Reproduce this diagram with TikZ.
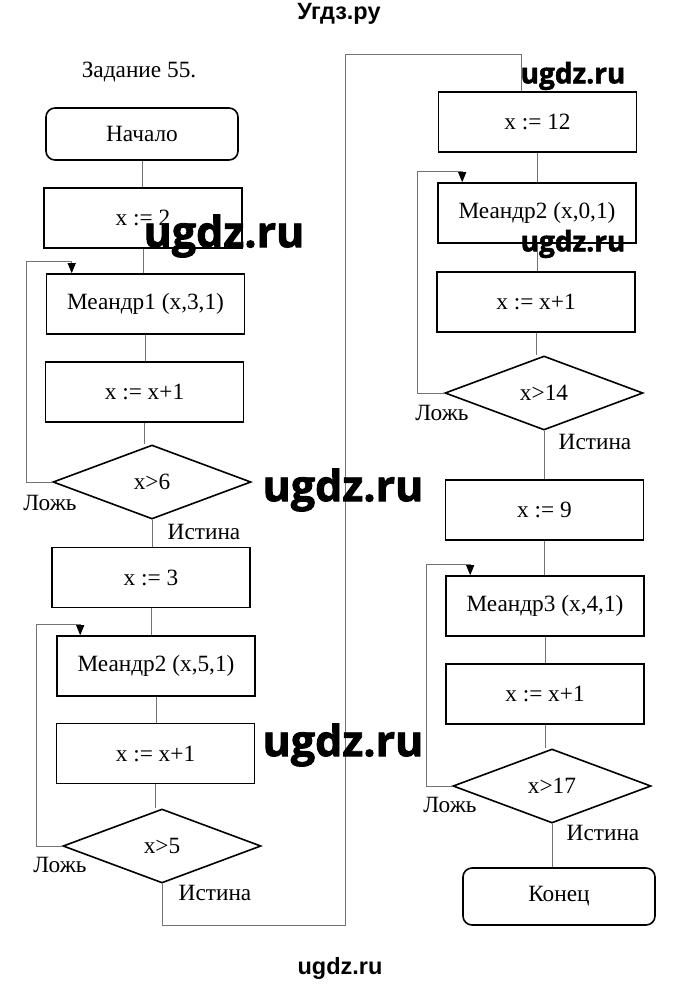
\documentclass[tikz,border=0pt]{standalone}
\usepackage{fontspec}
\setmainfont{Liberation Serif}
\newfontfamily\wmfont{Open Sans}[BoldFeatures={FakeBold=2}]
\newfontfamily\wmtop{Liberation Sans}
\usetikzlibrary{shapes.geometric,arrows.meta,calc}

\tikzset{
  blok/.style={draw=black,line width=1.6pt,minimum width=198pt,minimum height=60pt,inner sep=0pt},
  term/.style={blok,rounded corners=9pt,minimum width=192pt,minimum height=52pt},
  uslovie/.style={draw=black,line width=1.6pt,diamond,minimum width=198pt,minimum height=74pt,inner sep=0pt},
  svyaz/.style={draw=black!55,line width=0.9pt},
  cikl/.style={svyaz,-{Triangle[length=10pt,width=8pt,color=black]}},
  znak/.style={font=\wmfont\bfseries\fontsize{#1}{#1}\selectfont,text=black,inner sep=0pt},
  znakmal/.style={font=\wmtop\bfseries\fontsize{23.5}{24}\selectfont,text=black,inner sep=0pt},
}

\begin{document}
\begin{tikzpicture}[x=1pt,y=-1pt,font=\fontsize{23.3}{27}\selectfont]
    \useasboundingbox (0,0) rectangle (680,989);
    % left column
    \node (zad) at (139,72) {Задание 55.};
    \node[term] (nach) at (142,134) {Начало};
    \node[blok] (a1) at (143,218) {x := 2};
    \node[blok] (a2) at (145.5,304) {Меандр1 (x,3,1)};
    \node[blok] (a3) at (144.5,392) {x := x+1};
    \node[uslovie] (u1) at (152,482) {x>6};
    \node[blok] (a4) at (151,577.5) {x := 3};
    \node[blok] (a5) at (156,666) {Меандр2 (x,5,1)};
    \node[blok] (a6) at (155.5,753.5) {x := x+1};
    \node[uslovie] (u2) at (162,846) {x>5};
    % right column
    \node[blok] (b1) at (537.5,122) {x := 12};
    \node[blok] (b2) at (537,213) {Меандр2 (x,0,1)};
    \node[blok] (b3) at (536,302) {x := x+1};
    \node[uslovie] (u3) at (544,393) {x>14};
    \node[blok] (b4) at (544.5,510) {x := 9};
    \node[blok] (b5) at (545,606) {Меандр3 (x,4,1)};
    \node[blok] (b6) at (545,694) {x := x+1};
    \node[uslovie] (u4) at (552,786) {x>17};
    \node[term,minimum height=57pt] (kon) at (559,896.5) {Конец};
    % labels
    \node (l1) at (50,503) {Ложь};
    \node (i1) at (204,532) {Истина};
    \node (l2) at (60,865) {Ложь};
    \node (i2) at (215,893) {Истина};
    \node (l3) at (442,413) {Ложь};
    \node (i3) at (595,442) {Истина};
    \node (l4) at (450,805) {Ложь};
    \node (i4) at (603,833) {Истина};
    % straight links
    \foreach \i/\j in {nach/a1,a1/a2,a2/a3,a3/u1,u1/a4,a4/a5,a5/a6,a6/u2,
                       b1/b2,b2/b3,b3/u3,u3/b4,b4/b5,b5/b6,b6/u4,u4/kon}
      \draw[svyaz] (\i.south) -- (\i.south |- \j.north);
    % loops
    \coordinate (p1) at (26,261);
    \coordinate (p2) at (36,624);
    \coordinate (p3) at (417,171);
    \coordinate (p4) at (426,564);
    \draw[cikl] (u1.west) -| (p1) -| ($(a2.north west)+(26,0)$);
    \draw[cikl] (u2.west) -| (p2) -| ($(a5.north west)+(24,0)$);
    \draw[cikl] (u3.west) -| (p3) -| ($(b2.north west)+(25,0)$);
    \draw[cikl] (u4.west) -| (p4) -| ($(b5.north west)+(25,0)$);
    % jump to the right column
    \coordinate (c1) at (345,925);
    \coordinate (c2) at (521,54);
    \draw[svyaz] (u2.south) |- (c1) |- (c2) -- (c2 |- b1.north);
    % watermarks
    \node[znakmal] (w0) at (339,14) {Угдз.ру};
    \node[znakmal] (w1) at (340,968) {ugdz.ru};
    \node[znak=43] (w2) at (224,236) {ugdz.ru};
    \node[znak=43] (w3) at (343,490) {ugdz.ru};
    \node[znak=43] (w4) at (343,745) {ugdz.ru};
    \node[znak=28] (w5) at (573,76) {ugdz.ru};
    \node[znak=28] (w6) at (573,244) {ugdz.ru};
\end{tikzpicture}
\end{document}
